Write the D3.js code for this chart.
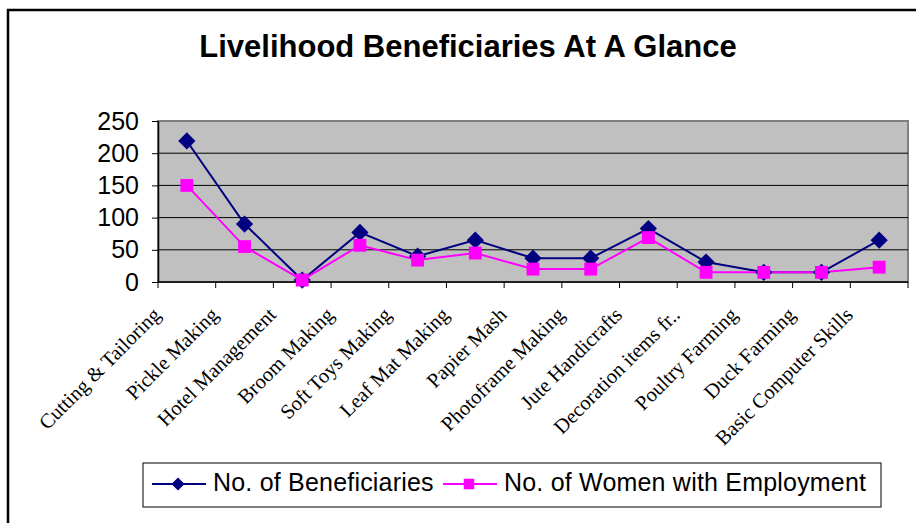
<!DOCTYPE html>
<html>
<head>
<meta charset="utf-8">
<script src="https://cdn.jsdelivr.net/npm/d3@7"></script>
<style>
  body { margin: 0; background: #fff; }
  svg { display: block; }
</style>
</head>
<body>
<div id="chart"></div>
<script>
var categories = ["Cutting & Tailoring", "Pickle Making", "Hotel Management", "Broom Making",
  "Soft Toys Making", "Leaf Mat Making", "Papier Mash", "Photoframe Making", "Jute Handicrafts",
  "Decoration items fr..", "Poultry Farming", "Duck Farming", "Basic Computer Skills"];
var beneficiaries = [219, 90, 3, 77, 40, 65, 37, 37, 83, 31, 15, 15, 65];
var womenEmployed = [150, 55, 3, 57, 34, 45, 20, 20, 69, 15, 15, 15, 23];
var yTicks = [0, 50, 100, 150, 200, 250];
var seriesNames = ["No. of Beneficiaries", "No. of Women with Employment"];

var width = 916, height = 523;
var plot = { left: 158, right: 908, top: 121, bottom: 282 };

var svg = d3.select("#chart").append("svg")
  .attr("width", width)
  .attr("height", height);

// outer frame (only top and left visible in the crop)
svg.append("path")
  .attr("d", "M8,523 L8,10 L916,10")
  .attr("fill", "none")
  .attr("stroke", "#000")
  .attr("stroke-width", 2.5);

svg.append("text")
  .attr("x", 468)
  .attr("y", 57)
  .attr("text-anchor", "middle")
  .style("font-family", "'Liberation Sans', Arial, sans-serif")
  .style("font-weight", "bold")
  .style("font-size", "31px")
  .text("Livelihood Beneficiaries At A Glance");

var x = d3.scaleBand()
  .domain(categories)
  .range([plot.left, plot.right]);

var y = d3.scaleLinear()
  .domain([0, 250])
  .range([plot.bottom, plot.top]);

// plot background
svg.append("rect")
  .attr("x", plot.left)
  .attr("y", plot.top)
  .attr("width", plot.right - plot.left)
  .attr("height", plot.bottom - plot.top)
  .attr("fill", "#c0c0c0")
  .attr("stroke", "#808080")
  .attr("stroke-width", 2);

// gridlines
svg.selectAll(".grid")
  .data(yTicks.filter(function (d) { return d > 0 && d < 250; }))
  .enter()
  .append("line")
  .attr("x1", plot.left)
  .attr("x2", plot.right)
  .attr("y1", function (d) { return y(d); })
  .attr("y2", function (d) { return y(d); })
  .attr("stroke", "#000")
  .attr("stroke-width", 1);

// y axis
var yAxis = svg.append("g")
  .attr("transform", "translate(" + plot.left + ",0)")
  .call(d3.axisLeft(y).tickValues(yTicks).tickSize(6).tickPadding(13).tickSizeOuter(0));
yAxis.select(".domain").attr("stroke", "#000").attr("stroke-width", 1.5);
yAxis.selectAll(".tick line").attr("stroke", "#000");
yAxis.selectAll(".tick text")
  .style("font-family", "'Liberation Sans', Arial, sans-serif")
  .style("font-size", "25px")
  .attr("fill", "#000");

// x axis line and ticks at category boundaries
svg.append("line")
  .attr("x1", plot.left)
  .attr("x2", plot.right)
  .attr("y1", y(0))
  .attr("y2", y(0))
  .attr("stroke", "#000")
  .attr("stroke-width", 1.5);

var boundaries = categories.map(function (c) { return x(c); }).concat([x.range()[1]]);
svg.selectAll(".xtick")
  .data(boundaries)
  .enter()
  .append("line")
  .attr("x1", function (d) { return d; })
  .attr("x2", function (d) { return d; })
  .attr("y1", y(0))
  .attr("y2", y(0) + 6)
  .attr("stroke", "#000");

svg.selectAll(".xlabel")
  .data(categories)
  .enter()
  .append("text")
  .attr("text-anchor", "end")
  .attr("transform", function (d) {
    return "translate(" + (x(d) + x.bandwidth() / 2 - 25) + "," + 316 + ") rotate(-45)";
  })
  .style("font-family", "'Liberation Serif', 'Times New Roman', serif")
  .style("font-size", "20.5px")
  .text(function (d) { return d; });

var cx = function (d, i) { return x(categories[i]) + x.bandwidth() / 2; };

var line = d3.line()
  .x(function (d, i) { return x(categories[i]) + x.bandwidth() / 2; })
  .y(function (d) { return y(d); });

svg.append("path")
  .datum(beneficiaries)
  .attr("d", line)
  .attr("fill", "none")
  .attr("stroke", "#000080")
  .attr("stroke-width", 2);

svg.append("path")
  .datum(womenEmployed)
  .attr("d", line)
  .attr("fill", "none")
  .attr("stroke", "#ff00ff")
  .attr("stroke-width", 2);

var diamond = d3.symbol().type(d3.symbolDiamond2).size(190);
var square = d3.symbol().type(d3.symbolSquare).size(165);

svg.selectAll(".ben")
  .data(beneficiaries)
  .enter()
  .append("path")
  .attr("d", diamond)
  .attr("transform", function (d, i) { return "translate(" + cx(d, i) + "," + y(d) + ")"; })
  .attr("fill", "#000080");

svg.selectAll(".wom")
  .data(womenEmployed)
  .enter()
  .append("path")
  .attr("d", square)
  .attr("transform", function (d, i) { return "translate(" + cx(d, i) + "," + y(d) + ")"; })
  .attr("fill", "#ff00ff");

// legend
var legend = svg.append("g");
legend.append("rect")
  .attr("x", 143)
  .attr("y", 463)
  .attr("width", 738)
  .attr("height", 44)
  .attr("fill", "#fff")
  .attr("stroke", "#000")
  .attr("stroke-width", 1);

var legendItems = [
  { name: seriesNames[0], color: "#000080", symbol: d3.symbol().type(d3.symbolDiamond2).size(110), x0: 152, tx: 213 },
  { name: seriesNames[1], color: "#ff00ff", symbol: d3.symbol().type(d3.symbolSquare).size(110), x0: 443, tx: 504 }
];
legendItems.forEach(function (it) {
  legend.append("line")
    .attr("x1", it.x0).attr("x2", it.x0 + 54)
    .attr("y1", 484).attr("y2", 484)
    .attr("stroke", it.color).attr("stroke-width", 2);
  legend.append("path")
    .attr("d", it.symbol)
    .attr("transform", "translate(" + (it.x0 + 26) + ",484)")
    .attr("fill", it.color);
  legend.append("text")
    .attr("x", it.tx)
    .attr("y", 491)
    .style("font-family", "'Liberation Sans', Arial, sans-serif")
    .style("font-size", "25px")
    .style("letter-spacing", "0.2px")
    .text(it.name);
});
</script>
</body>
</html>
